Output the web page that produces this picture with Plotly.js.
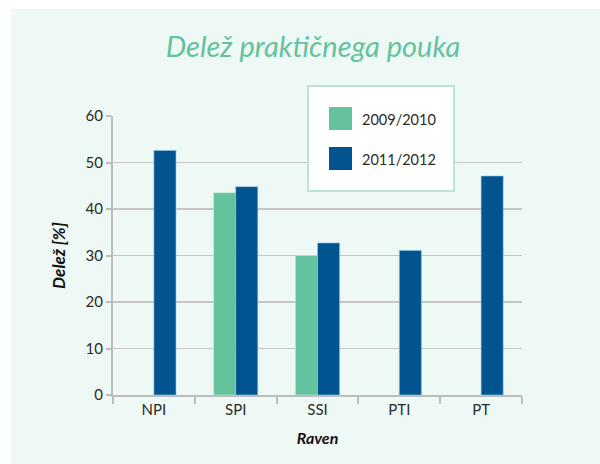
<!DOCTYPE html>
<html>
<head>
<meta charset="utf-8">
<script src="https://cdn.plot.ly/plotly-3.0.1.min.js"></script>
<style>
html,body{margin:0;padding:0;background:#ffffff;}
#chart{position:absolute;left:11px;top:9px;width:589px;height:455px;}
</style>
</head>
<body>
<div id="chart"></div>
<script>
// Data
var categories = ["NPI", "SPI", "SSI", "PTI", "PT"];
var seriesNames = ["2009/2010", "2011/2012"];
var values0910 = [null, 43.5, 30.0, null, null];
var values1112 = [52.6, 44.8, 32.7, 31.1, 47.1];
var yTicks = [0, 10, 20, 30, 40, 50, 60];

var colors = ["#64c29d", "#01548f"];
var bg = "#eef8f5";

// plot area in div pixels
var W = 589, H = 455;
var mL = 102, mR = 78, mT = 107, mB = 69;
var pw = W - mL - mR, ph = H - mT - mB;
function px(x){ return (x - mL) / pw; }
function py(y){ return (H - mB - y) / ph; }

var traces = [
  {type: "bar", name: seriesNames[0], x: categories, y: values0910,
   marker: {color: colors[0], line: {color: "rgba(200,235,225,0.6)", width: 1}}, showlegend: false},
  {type: "bar", name: seriesNames[1], x: categories, y: values1112,
   marker: {color: colors[1], line: {color: "rgba(150,200,230,0.6)", width: 1}}, showlegend: false}
];

var fontFam = "Lato, 'Open Sans', sans-serif";

var shapes = [
  {type: "rect", xref: "paper", yref: "paper", x0: px(297), x1: px(443), y0: py(182), y1: py(77),
   fillcolor: "#ffffff", line: {color: "#b8e6d6", width: 2}, layer: "above"},
  {type: "rect", xref: "paper", yref: "paper", x0: px(318), x1: px(341), y0: py(121), y1: py(98),
   fillcolor: colors[0], line: {width: 0}, layer: "above"},
  {type: "rect", xref: "paper", yref: "paper", x0: px(318), x1: px(341), y0: py(161), y1: py(138),
   fillcolor: colors[1], line: {width: 0}, layer: "above"}
];

var annotations = [
  {xref: "paper", yref: "paper", x: px(349), y: py(110), xanchor: "left", yanchor: "middle",
   text: seriesNames[0], showarrow: false, font: {family: fontFam, size: 14.5, color: "#2a2a2a"}},
  {xref: "paper", yref: "paper", x: px(349), y: py(150), xanchor: "left", yanchor: "middle",
   text: seriesNames[1], showarrow: false, font: {family: fontFam, size: 14.5, color: "#2a2a2a"}}
];

var layout = {
  width: W, height: H,
  paper_bgcolor: bg, plot_bgcolor: bg,
  margin: {l: mL, r: mR, t: mT, b: mB, pad: 0},
  barmode: "group", bargap: 0.46, bargroupgap: 0,
  title: {text: "Delež praktičnega pouka", x: px(302), xanchor: "center", xref: "paper",
          y: 1 - 38 / H, yanchor: "middle",
          font: {family: fontFam, size: 29, color: "#64c29d", style: "italic"}},
  xaxis: {
    type: "category", range: [-0.5, 4.5],
    showline: true, linecolor: "#bdbdbd", linewidth: 2,
    ticks: "outside", tickson: "boundaries", ticklen: 7, tickcolor: "#bdbdbd", tickwidth: 2,
    showgrid: false,
    tickfont: {family: fontFam, size: 15, color: "#2a2a2a"},
    title: {text: "<b><i>Raven</i></b>", standoff: 16, font: {family: fontFam, size: 16, color: "#111"}}
  },
  yaxis: {
    range: [0, 60], tickvals: yTicks,
    showline: true, linecolor: "#bdbdbd", linewidth: 2,
    ticks: "outside", ticklen: 5, tickcolor: "#bdbdbd", tickwidth: 2,
    showgrid: true, gridcolor: "#c6c6c6", gridwidth: 1.5, zeroline: false,
    tickfont: {family: fontFam, size: 15, color: "#2a2a2a"},
    title: {text: "<b><i>Delež [%]</i></b>", standoff: 16, font: {family: fontFam, size: 17, color: "#111"}}
  },
  shapes: shapes,
  annotations: annotations
};

Plotly.newPlot("chart", traces, layout, {displayModeBar: false, staticPlot: true});
</script>
</body>
</html>
